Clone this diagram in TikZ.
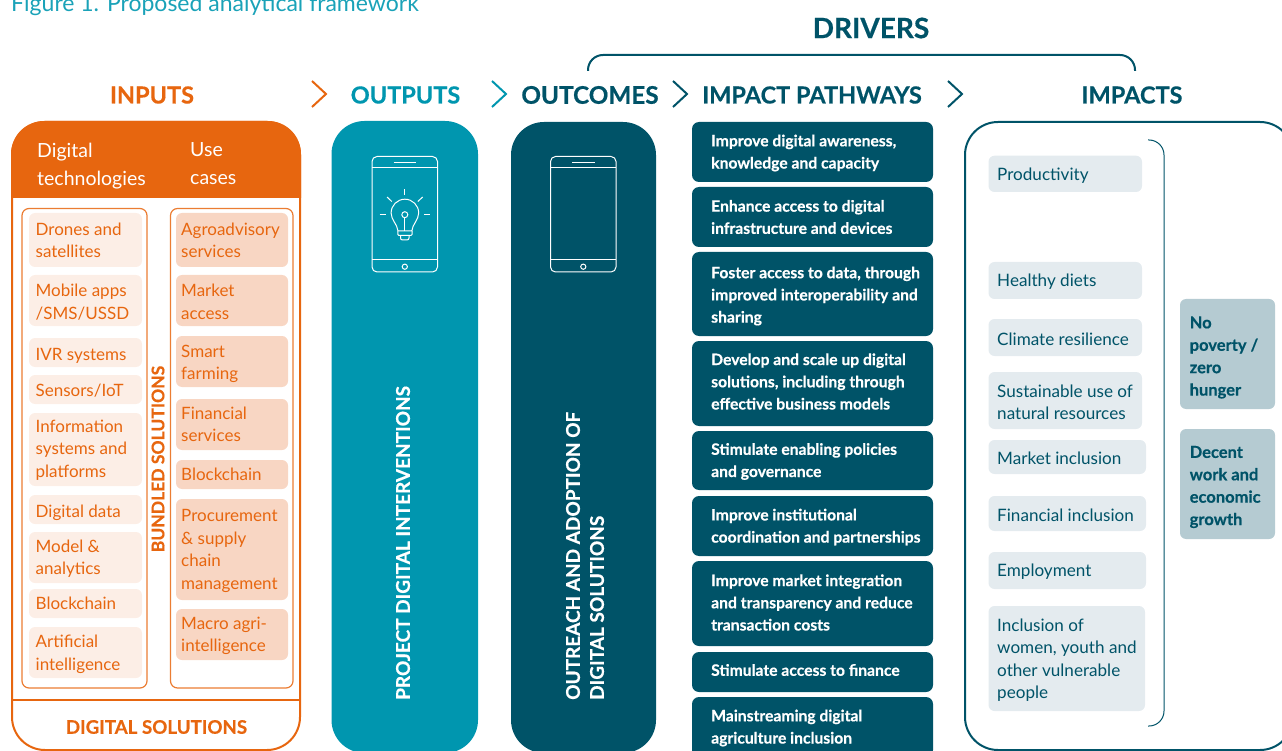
\documentclass[tikz,border=0pt]{standalone}
\usepackage{fontspec}
\setmainfont{Lato}[BoldFeatures={FakeBold=0.5}]
\definecolor{orng}{HTML}{E7660F}
\definecolor{teal2}{HTML}{0096AF}
\definecolor{dark}{HTML}{005368}
\definecolor{lora}{HTML}{FCEEE6}
\definecolor{mora}{HTML}{F8D6C3}
\definecolor{limp}{HTML}{E4EBEF}
\definecolor{msdg}{HTML}{B5CBD2}
\definecolor{ttl}{HTML}{1AA2B8}
\newcommand{\plainbox}[6]{%
  \pgfmathsetmacro{\bw}{#4-#2}\pgfmathsetmacro{\bh}{#5-#3}%
  \node[#6,minimum width=\bw pt,minimum height=\bh pt,inner sep=0pt]
    (#1) at ({(#2+#4)/2},{(#3+#5)/2}) {};}
% box #1 name, #2-#5 corners, #6 box style, #7 text style, #8 text
\newcommand{\rbox}[8]{%
  \plainbox{#1}{#2}{#3}{#4}{#5}{#6}
  \node[#7,anchor=west,inner sep=0pt] (#1t) at ({#2+\inset},{(#3+#5)/2+\dropy}) {#8};}
\newcommand{\phoneicon}[1]{%
  \begin{scope}[xshift=#1 pt,phone]
    \draw[rounded corners=5pt] (372,156.5) rectangle (437.5,272);
    \draw (372,167.7) -- (437.5,167.7);
    \draw (372,260) -- (437.5,260);
    \draw (393.5,162.3) -- (416,162.3);
    \draw (404.8,266.7) circle (2.6pt);
  \end{scope}}
\tikzset{
  x=1pt,y=-1pt,
  head/.style={font=\fontsize{23.5}{25}\selectfont\bfseries,inner sep=0pt},
  chev/.style={line width=2pt,line join=miter},
  bigcol/.style={rectangle,rounded corners=33pt},
  frame/.style={rectangle,draw=orng!85,line width=1.2pt,rounded corners=7pt},
  lobox/.style={rectangle,fill=lora,rounded corners=6pt},
  robox/.style={rectangle,fill=mora,rounded corners=6pt},
  otext/.style={text=orng,font=\fontsize{17}{22.6}\selectfont,align=left},
  pbox/.style={rectangle,fill=dark,rounded corners=7pt},
  ptext/.style={text=white,font=\fontsize{15.7}{22.2}\selectfont\bfseries,align=left},
  ibox/.style={rectangle,fill=limp,rounded corners=6pt},
  itext/.style={text=dark,font=\fontsize{17.1}{22.4}\selectfont,align=left},
  sbox/.style={rectangle,fill=msdg,rounded corners=6pt},
  stext/.style={text=dark,font=\fontsize{16.5}{22.4}\selectfont\bfseries,align=left},
  phone/.style={draw=white,line width=1pt},
  vert/.style={rotate=90,text=white,font=\fontsize{19}{24}\selectfont\bfseries,align=left,inner sep=0pt,anchor=west},
}
\begin{document}
\begin{tikzpicture}
\useasboundingbox (0,0) rectangle (1282,751);
\clip (0,0) rectangle (1282,751);
\node[anchor=base west,text=ttl,font=\fontsize{23}{24}\selectfont,inner sep=0pt] (title) at (11,12) {Figure 1. Proposed analytical framework};
% headings
\node[head,font=\fontsize{28}{30}\selectfont\bfseries,text=dark] (drivers) at (871,28) {DRIVERS};
\node[head,text=orng] (hin) at (152,95) {INPUTS};
\node[head,text=teal2] (hout) at (405.5,95) {OUTPUTS};
\node[head,font=\fontsize{24.3}{25}\selectfont\bfseries,text=dark] (hoc) at (590,95) {OUTCOMES};
\node[head,text=dark] (hip) at (812,95) {IMPACT PATHWAYS};
\node[head,text=dark] (him) at (1132,95) {IMPACTS};
% bracket
\coordinate (bra) at (588,71); \coordinate (brb) at (1135,71);
\draw[dark,line width=2pt,rounded corners=15pt] (bra) |- (861,55) -| (brb);
% chevrons
\draw[chev,orng] (312,81) -- (326,94) -- (312,107);
\draw[chev,teal2] (492,81) -- (506,94) -- (492,107);
\draw[chev,dark] (673,81) -- (687,94) -- (673,107);
\draw[chev,dark] (948,81) -- (962,94) -- (948,107);
% inputs
\fill[orng] (11,198) [rounded corners=33pt] -- (11,121) -- (301,121) [sharp corners] -- (301,198) -- cycle;
\plainbox{inputs}{12}{122}{300}{750}{bigcol,draw=orng,line width=2pt}
\node[text=white,font=\fontsize{19.5}{28}\selectfont,align=left,anchor=north west,inner sep=0pt] (dt) at (37,142.5) {Digital\\technologies};
\node[text=white,font=\fontsize{19.5}{28}\selectfont,align=left,anchor=north west,inner sep=0pt] (uc) at (190,142.5) {Use\\cases};
\draw[orng,line width=2pt] (11,700) -- (301,700);
\node[text=orng,font=\fontsize{18.7}{24}\selectfont\bfseries,inner sep=0pt] (ds) at (156.5,727) {DIGITAL SOLUTIONS};
\plainbox{fl}{22}{208.5}{147}{688}{frame}
\plainbox{fr}{170.5}{208.5}{293}{688}{frame}
\node[rotate=90,text=orng,font=\fontsize{17.5}{20}\selectfont\bfseries,inner sep=0pt] (bs) at (158,459) {BUNDLED SOLUTIONS};
\def\inset{6.5}
\def\dropy{0.5}
\rbox{a1}{29}{213}{142}{267}{lobox}{otext}{Drones and\\satellites}
\def\dropy{1.5}
\rbox{a2}{29}{275}{142}{326}{lobox}{otext}{Mobile apps\\/SMS/USSD}
\def\dropy{3}
\rbox{a3}{29}{338}{142}{367}{lobox}{otext}{IVR systems}
\def\dropy{1.5}
\rbox{a4}{29}{375}{142}{404}{lobox}{otext}{Sensors/IoT}
\def\dropy{0.5}
\rbox{a5}{29}{413}{142}{486}{lobox}{otext}{Information\\systems and\\platforms}
\def\dropy{3}
\rbox{a6}{29}{495}{142}{524}{lobox}{otext}{Digital data}
\def\dropy{1}
\rbox{a7}{29}{532}{142}{583}{lobox}{otext}{Model \&\\analytics}
\def\dropy{0}
\rbox{a8}{29}{589}{142}{618}{lobox}{otext}{Blockchain}
\def\dropy{1.5}
\rbox{a9}{29}{627}{142}{678}{lobox}{otext}{Artificial\\intelligence}
\def\inset{5}
\def\dropy{0.5}
\rbox{b1}{176}{213}{288}{267}{robox}{otext}{Agroadvisory\\services}
\def\dropy{1.5}
\rbox{b2}{176}{275}{288}{326}{robox}{otext}{Market\\access}
\def\dropy{2.5}
\rbox{b3}{176}{336}{288}{387}{robox}{otext}{Smart\\farming}
\def\dropy{0}
\rbox{b4}{176}{399}{288}{450}{robox}{otext}{Financial\\services}
\def\dropy{0}
\rbox{b5}{176}{460}{288}{489}{robox}{otext}{Blockchain}
\def\dropy{1.5}
\rbox{b6}{176}{499}{288}{600}{robox}{otext}{Procurement\\\& supply\\chain\\management}
\rbox{b7}{176}{609}{288}{660}{robox}{otext}{Macro agri-\\intelligence}
% outputs, outcomes
\plainbox{outp}{331.5}{121}{478}{753}{bigcol,fill=teal2}
\plainbox{outc}{511}{122}{656}{753}{bigcol,fill=dark}
\phoneicon{0}
\phoneicon{178.5}
\begin{scope}[phone]
  \draw (391.1,213) arc[start angle=180,end angle=360,radius=13.8] .. controls (418.6,220) and (412.5,224) .. (411.8,231) -- (398,231) .. controls (397.3,224) and (391.1,220) .. (391.1,213);
  \draw (404.8,214.7) circle (3pt);
  \draw (404.8,217.7) -- (404.8,231);
  \draw[rounded corners=1pt] (397.8,231) -- (397.8,235.5) -- (412,235.5) -- (412,231);
  \draw[rounded corners=2pt] (400.5,235.5) -- (400.5,240) -- (409,240) -- (409,235.5);
  \draw (404.8,189.5) -- (404.8,195.5);
  \draw (387,197) -- (391.8,201.5);
  \draw (422.7,197) -- (417.8,201.5);
  \draw (379.5,215) -- (386,215);
  \draw (424,215) -- (430,215);
\end{scope}
\node[vert] (pdi) at (403,700) {PROJECT DIGITAL INTERVENTIONS};
\node[vert] (oad) at (585,700) {OUTREACH AND ADOPTION OF\\DIGITAL SOLUTIONS};
% pathways
\def\inset{19}
\def\dropy{1}
\rbox{p1}{692}{122}{933}{182}{pbox}{ptext}{Improve digital awareness,\\knowledge and capacity}
\def\dropy{0}
\rbox{p2}{692}{187}{933}{247}{pbox}{ptext}{Enhance access to digital\\infrastructure and devices}
\def\dropy{2}
\rbox{p3}{692}{252}{933}{336}{pbox}{ptext}{Foster access to data, through\\improved interoperability and\\sharing}
\def\dropy{-2}
\rbox{p4}{692}{341}{933}{426}{pbox}{ptext}{Develop and scale up digital\\solutions, including through\\effective business models}
\def\dropy{1}
\rbox{p5}{692}{431}{933}{490}{pbox}{ptext}{Stimulate enabling policies\\and governance}
\rbox{p6}{692}{496}{933}{556}{pbox}{ptext}{Improve institutional\\coordination and partnerships}
\def\dropy{-1}
\rbox{p7}{692}{561}{933}{646}{pbox}{ptext}{Improve market integration\\and transparency and reduce\\transaction costs}
\def\dropy{-2}
\rbox{p8}{692}{652}{933}{692}{pbox}{ptext}{Stimulate access to finance}
\def\dropy{1}
\rbox{p9}{692}{697}{933}{757}{pbox}{ptext}{Mainstreaming digital\\agriculture inclusion}
% impacts
\plainbox{impb}{965}{122}{1293}{750}{bigcol,draw=dark,line width=2pt}
\coordinate (ia) at (1148,140); \coordinate (ib) at (1148,726);
\draw[dark,line width=1pt,rounded corners=15pt] (ia) -| (1164,433) |- (ib);
\def\dropy{1.5}
\def\inset{8.5}
\rbox{i1}{988.5}{155.7}{1142}{192}{ibox}{itext}{Productivity}
\rbox{i2}{988.5}{262}{1142}{299}{ibox}{itext}{Healthy diets}
\rbox{i3}{988.5}{319}{1142}{356}{ibox}{itext}{Climate resilience}
\rbox{i4}{988.5}{372}{1142}{429}{ibox}{itext}{Sustainable use of\\natural resources}
\rbox{i5}{988.5}{440}{1146}{474}{ibox}{itext}{Market inclusion}
\rbox{i6}{988.5}{496}{1146}{531}{ibox}{itext}{Financial inclusion}
\rbox{i7}{988.5}{552}{1146}{589}{ibox}{itext}{Employment}
\rbox{i8}{988.5}{606}{1145}{711}{ibox}{itext}{Inclusion of\\women, youth and\\other vulnerable\\people}
\def\dropy{3.5}
\def\inset{9.5}
\rbox{s1}{1180}{299}{1275}{409}{sbox}{stext}{No\\poverty /\\zero\\hunger}
\def\dropy{3}
\rbox{s2}{1180}{429}{1275}{539}{sbox}{stext}{Decent\\work and\\economic\\growth}
\end{tikzpicture}
\end{document}
